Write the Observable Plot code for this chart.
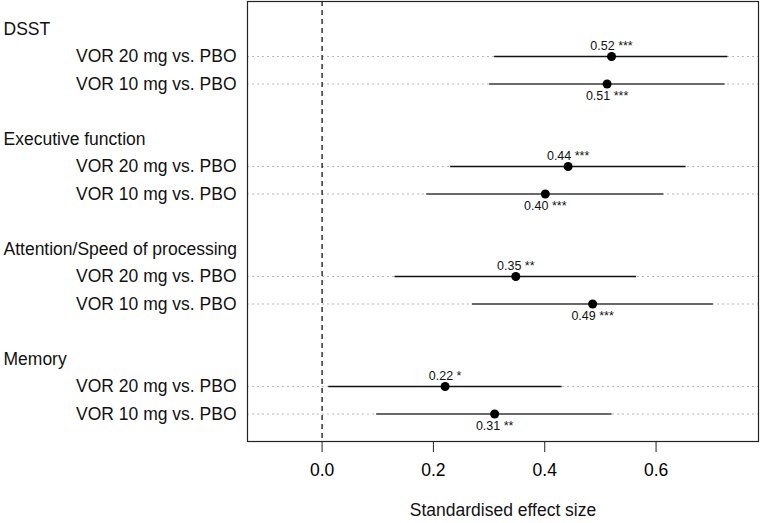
<!DOCTYPE html>
<html>
<head>
<meta charset="utf-8">
<script src="https://cdn.jsdelivr.net/npm/d3@7"></script>
<script src="https://cdn.jsdelivr.net/npm/@observablehq/plot@0.6"></script>
<style>
  body { margin: 0; background: #fff; }
  #chart svg { display: block; }
</style>
</head>
<body>
<div id="chart"></div>
<script>
const groups = ["DSST", "Executive function", "Attention/Speed of processing", "Memory"];
const comparisons = ["VOR 20 mg vs. PBO", "VOR 10 mg vs. PBO"];
// per group: [20 mg, 10 mg]
const estimates = [0.520, 0.512, 0.442, 0.401, 0.348, 0.486, 0.221, 0.310];
const lower     = [0.310, 0.301, 0.231, 0.188, 0.131, 0.270, 0.012, 0.098];
const upper     = [0.729, 0.724, 0.654, 0.614, 0.565, 0.703, 0.431, 0.521];
const stars     = ["***", "***", "***", "***", "**", "***", "*", "**"];
const xTicks = [0, 0.2, 0.4, 0.6];

// slot layout: header, row 20 mg, row 10 mg, spacer
const headers = groups.map((g, i) => ({label: g, slot: i * 4}));
const rows = [];
groups.forEach((g, i) => {
  comparisons.forEach((c, j) => {
    const k = i * 2 + j;
    rows.push({
      group: g, comp: c, dose: j === 0 ? "20" : "10",
      slot: i * 4 + 1 + j,
      est: estimates[k], lo: lower[k], hi: upper[k],
      label: estimates[k].toFixed(2) + " " + stars[k]
    });
  });
});
const r20 = rows.filter(d => d.dose === "20");
const r10 = rows.filter(d => d.dose === "10");

const font = "Liberation Sans, Arial, Helvetica, sans-serif";

const chart = Plot.plot({
  width: 760,
  height: 523,
  marginLeft: 247,
  marginRight: 2,
  marginTop: 1,
  marginBottom: 82,
  style: {fontFamily: font, fontSize: "17px", background: "#fff", color: "#000"},
  x: {domain: [-0.134, 0.784], label: null},
  y: {domain: [15, -1], axis: null},
  marks: [
    // dotted grid lines per row
    Plot.ruleY(rows, {y: "slot", stroke: "#b8b8b8", strokeWidth: 1, strokeDasharray: "2,3"}),
    // reference line at zero
    Plot.ruleX([0], {stroke: "#000", strokeWidth: 1.2, strokeDasharray: "5,4"}),
    // confidence intervals
    Plot.ruleY(r20, {y: "slot", x1: "lo", x2: "hi", stroke: "#111", strokeWidth: 1.4}),
    Plot.ruleY(r10, {y: "slot", x1: "lo", x2: "hi", stroke: "#6a6a6a", strokeWidth: 2}),
    // point estimates
    Plot.dot(rows, {x: "est", y: "slot", r: 4.5, fill: "#000", stroke: "none"}),
    // value labels
    Plot.text(r20, {x: "est", y: "slot", text: "label", dy: -11, fontSize: 12.5, fill: "#111"}),
    Plot.text(r10, {x: "est", y: "slot", text: "label", dy: 12, fontSize: 12.5, fill: "#111"}),
    // row labels
    Plot.text(rows, {y: "slot", text: "comp", frameAnchor: "left", textAnchor: "end", dx: -11, fontSize: 17.5, fill: "#111"}),
    // group headers
    Plot.text(headers, {y: "slot", text: "label", frameAnchor: "left", textAnchor: "start", dx: -244, fontSize: 17.5, fill: "#111"}),
    // x axis
    Plot.axisX({ticks: xTicks, tickFormat: d3.format(".1f"), tickSize: 11, tickPadding: 11, fontSize: 17.5, stroke: "#222", label: null}),
    Plot.text(["Standardised effect size"], {frameAnchor: "bottom", dy: 74, fontSize: 17.5, fill: "#111"}),
    Plot.frame({stroke: "#222", strokeWidth: 1.2})
  ]
});
document.getElementById("chart").appendChild(chart);
</script>
</body>
</html>
